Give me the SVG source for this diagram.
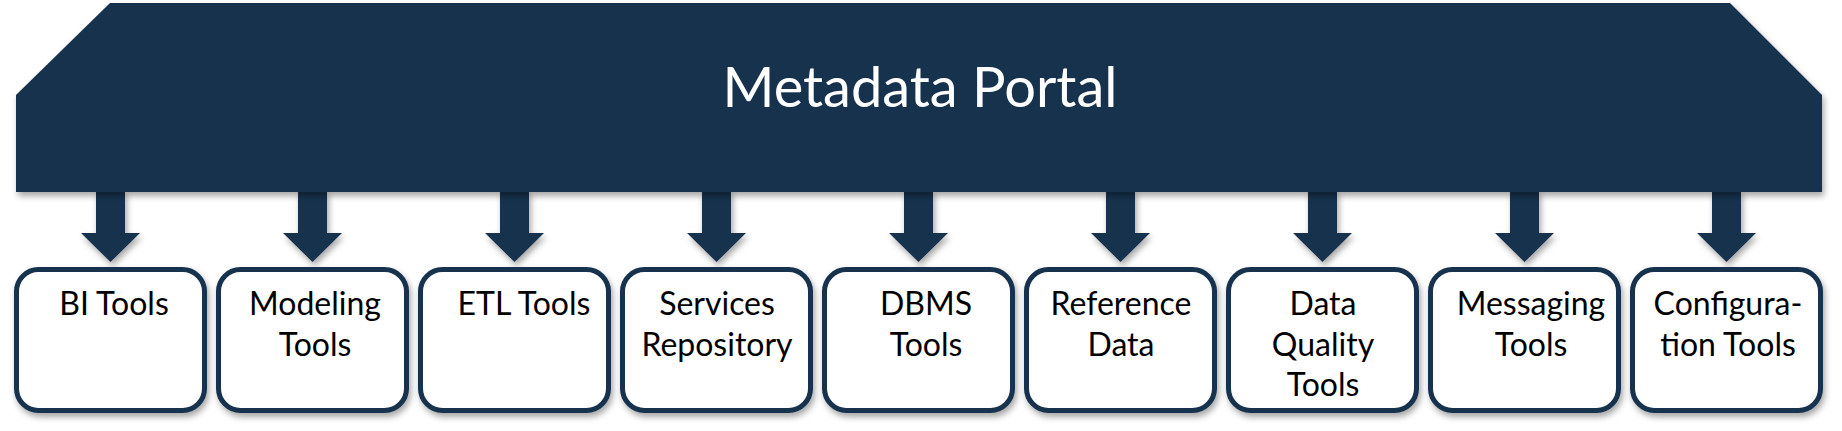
<svg xmlns="http://www.w3.org/2000/svg" width="1842" height="431" viewBox="0 0 1842 431">
<defs>
<filter id="sh" x="-10%" y="-10%" width="120%" height="130%">
<feDropShadow dx="2" dy="4" stdDeviation="3" flood-color="#000" flood-opacity="0.35"/>
</filter>
<style>
.navy{fill:#17304E;}
.box{fill:#fff;stroke:#17304E;stroke-width:5;}
.lbl{font-family:Lato,"Open Sans",sans-serif;font-size:32px;fill:#000;text-anchor:middle;}
.title{font-family:Lato,"Open Sans",sans-serif;font-size:56px;fill:#fff;text-anchor:middle;}
</style>
</defs>
<rect width="1842" height="431" fill="#fff"/>
<g id="connectors" class="navy" filter="url(#sh)">
<path d="M96,190 H125 V233 H140 L110.5,262 L81,233 H96 Z"/>
<path d="M298,190 H327 V233 H342 L312.5,262 L283,233 H298 Z"/>
<path d="M500,190 H529 V233 H544 L514.5,262 L485,233 H500 Z"/>
<path d="M702,190 H731 V233 H746 L716.5,262 L687,233 H702 Z"/>
<path d="M904,190 H933 V233 H948 L918.5,262 L889,233 H904 Z"/>
<path d="M1106,190 H1135 V233 H1150 L1120.5,262 L1091,233 H1106 Z"/>
<path d="M1308,190 H1337 V233 H1352 L1322.5,262 L1293,233 H1308 Z"/>
<path d="M1510,190 H1539 V233 H1554 L1524.5,262 L1495,233 H1510 Z"/>
<path d="M1712,190 H1741 V233 H1756 L1726.5,262 L1697,233 H1712 Z"/>
</g>
<g id="portal" filter="url(#sh)">
<path class="navy" d="M16,95 L110,3 H1730 L1822,95 V192 H16 Z"/>
<text class="title" x="920" y="107">Metadata Portal</text>
</g>
<g id="bi-tools">
<rect class="box" filter="url(#sh)" x="16.5" y="269.5" width="188" height="141" rx="22"/>
<text class="lbl" x="114" y="315">BI Tools</text>
</g>
<g id="modeling-tools">
<rect class="box" filter="url(#sh)" x="218.5" y="269.5" width="188" height="141" rx="22"/>
<text class="lbl" x="315" y="315">Modeling</text>
<text class="lbl" x="315" y="356">Tools</text>
</g>
<g id="etl-tools">
<rect class="box" filter="url(#sh)" x="420.5" y="269.5" width="188" height="141" rx="22"/>
<text class="lbl" x="524" y="315">ETL Tools</text>
</g>
<g id="services-repository">
<rect class="box" filter="url(#sh)" x="622.5" y="269.5" width="188" height="141" rx="22"/>
<text class="lbl" x="717" y="315">Services</text>
<text class="lbl" x="717" y="356">Repository</text>
</g>
<g id="dbms-tools">
<rect class="box" filter="url(#sh)" x="824.5" y="269.5" width="188" height="141" rx="22"/>
<text class="lbl" x="926" y="315">DBMS</text>
<text class="lbl" x="926" y="356">Tools</text>
</g>
<g id="reference-data">
<rect class="box" filter="url(#sh)" x="1026.5" y="269.5" width="188" height="141" rx="22"/>
<text class="lbl" x="1121" y="315">Reference</text>
<text class="lbl" x="1121" y="356">Data</text>
</g>
<g id="data-quality-tools">
<rect class="box" filter="url(#sh)" x="1228.5" y="269.5" width="188" height="141" rx="22"/>
<text class="lbl" x="1323" y="315">Data</text>
<text class="lbl" x="1323" y="356">Quality</text>
<text class="lbl" x="1323" y="396">Tools</text>
</g>
<g id="messaging-tools">
<rect class="box" filter="url(#sh)" x="1430.5" y="269.5" width="188" height="141" rx="22"/>
<text class="lbl" x="1531" y="315">Messaging</text>
<text class="lbl" x="1531" y="356">Tools</text>
</g>
<g id="configuration-tools">
<rect class="box" filter="url(#sh)" x="1632.5" y="269.5" width="188" height="141" rx="22"/>
<text class="lbl" x="1728" y="315">Configura-</text>
<text class="lbl" x="1728" y="356">tion Tools</text>
</g>
</svg>
